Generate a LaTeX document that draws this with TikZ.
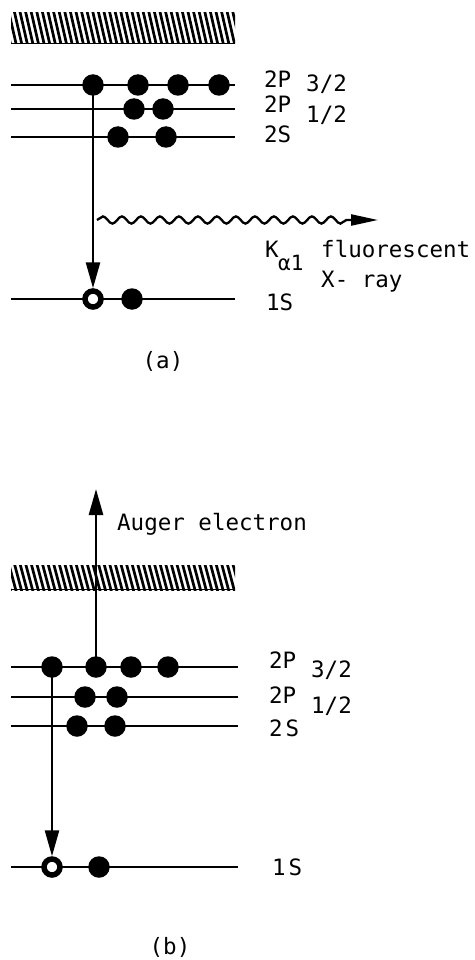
\documentclass[tikz,border=0pt]{standalone}
\usepackage{fontspec}
\newfontfamily\labfont{DejaVu Sans Mono}
\usetikzlibrary{arrows.meta,decorations.pathmorphing}
\begin{document}
\begin{tikzpicture}[x=1pt,y=-1pt,
  lab/.style={font=\labfont\fontsize{22.5}{26}\selectfont, inner sep=0pt, anchor=base west},
  sublab/.style={font=\labfont\fontsize{21}{24}\selectfont, inner sep=0pt, anchor=base west},
  panellab/.style={font=\labfont\fontsize{22.5}{26}\selectfont, inner sep=0pt, anchor=base},
  level/.style={line width=1.3pt},
  eldot/.style={circle, fill=black, inner sep=0pt, minimum size=21.5pt},
  hole/.style={circle, draw=black, fill=white, line width=5.5pt, inner sep=0pt, minimum size=16pt},
  hatchline/.style={line width=2.7pt},
  trans/.style={line width=2.5pt, -{Triangle[length=26pt,width=14pt]}},
  wave/.style={line width=2.3pt, -{Triangle[length=27pt,width=11pt]}, decorate,
    decoration={snake, segment length=19pt, amplitude=3.6pt, post=lineto, post length=27pt}}
]
\useasboundingbox (0,0) rectangle (474,960);

% ---------- panel (a) ----------
\begin{scope}
  \clip (11,13) rectangle (235,44);
  \foreach \i in {0,...,44} { \draw[hatchline] ({3+\i*5.6},11) -- ++(8,35); }
\end{scope}
\draw[line width=1.6pt] (11,43.5) -- (235,43.5);

\draw[level] (11,85) -- (235,85);
\draw[level] (11,109) -- (235,109);
\draw[level] (11,137) -- (235,137);
\draw[level] (11,299) -- (235,299);

\node[eldot] (a1) at (93,85) {};
\node[eldot] (a2) at (138,85) {};
\node[eldot] (a3) at (178,85) {};
\node[eldot] (a4) at (219,85) {};
\node[eldot] (a5) at (134,109) {};
\node[eldot] (a6) at (163,109) {};
\node[eldot] (a7) at (118,137) {};
\node[eldot] (a8) at (166,137) {};
\node[hole]  (ah) at (93,299) {};
\node[eldot] (a9) at (132,299) {};

\draw[trans] (a1.center) -- (ah.north);

\coordinate (ws) at (97,220);
\coordinate (we) at (378,220);
\draw[wave] (ws) -- (we);

\node[lab] (la1) at (264,88) {2P};
\node[lab] (la2) at (306,92) {3/2};
\node[lab] (la3) at (264,113) {2P};
\node[lab] (la4) at (306,123) {1/2};
\node[lab] (la5) at (264,143) {2S};
\node[lab] (lk)  at (265,257) {K};
\node[sublab] (lka) at (278,270) {α1};
\node[lab] (lf)  at (321,257) {fluorescent};
\node[lab] (lx)  at (321,287) {X- ray};
\node[lab] (la6) at (266,310) {1S};
\node[panellab] (capa) at (163,368) {(a)};

% ---------- panel (b) ----------
\begin{scope}
  \clip (11,565) rectangle (235,590);
  \foreach \i in {0,...,44} { \draw[hatchline] ({3+\i*5.6},563) -- ++(8,30); }
\end{scope}
\draw[line width=1.6pt] (11,589.5) -- (235,589.5);

\draw[level] (11,667) -- (238,667);
\draw[level] (11,697) -- (238,697);
\draw[level] (11,726) -- (238,726);
\draw[level] (11,867) -- (238,867);

\node[eldot] (b1) at (52,667) {};
\node[eldot] (b2) at (96,667) {};
\node[eldot] (b3) at (131,667) {};
\node[eldot] (b4) at (168,667) {};
\node[eldot] (b5) at (85,697) {};
\node[eldot] (b6) at (117,697) {};
\node[eldot] (b7) at (77,726) {};
\node[eldot] (b8) at (115,726) {};
\node[hole]  (bh) at (52,867) {};
\node[eldot] (b9) at (99,867) {};

\draw[trans] (b1.center) -- (bh.north);
\coordinate (aug) at (96,489);
\draw[trans] (b2.center) -- (aug);

\node[lab] (lau) at (117,530) {Auger electron};
\node[lab] (lb1) at (269,668) {2P};
\node[lab] (lb2) at (311,677) {3/2};
\node[lab] (lb3) at (269,703) {2P};
\node[lab] (lb4) at (311,713) {1/2};
\node[lab] (lb5) at (269,736) {2\hspace{3pt}S};
\node[lab] (lb6) at (272,875) {1\hspace{3pt}S};
\node[panellab] (capb) at (170,954) {(b)};
\end{tikzpicture}
\end{document}
